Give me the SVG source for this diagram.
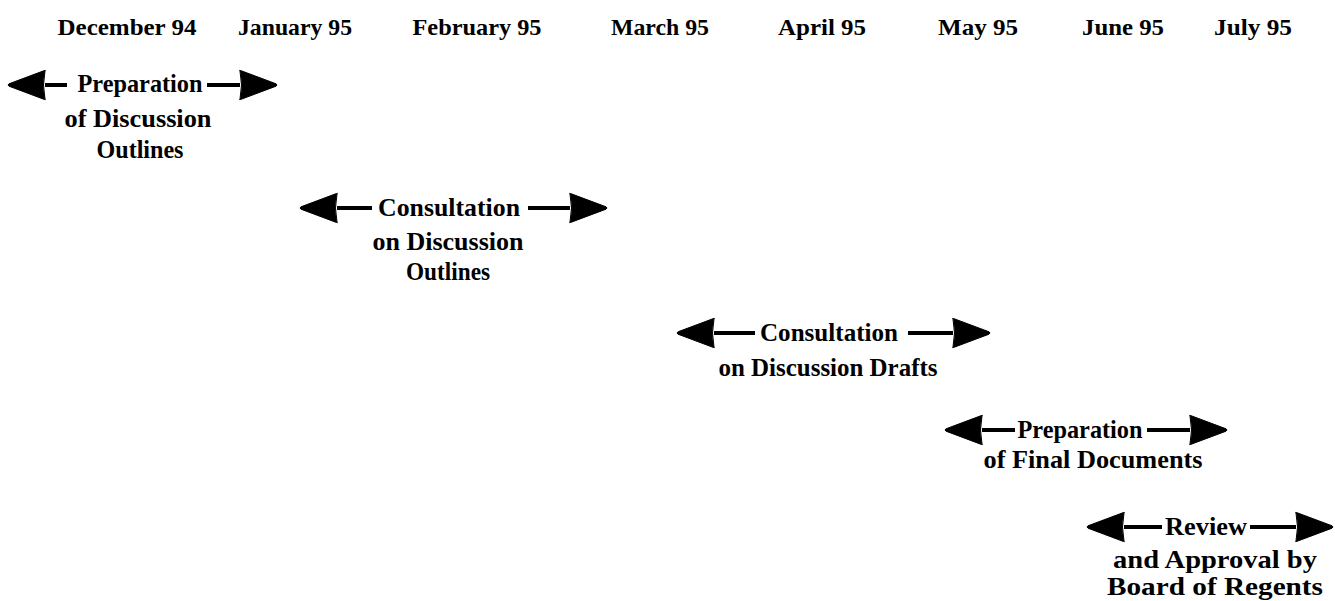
<svg xmlns="http://www.w3.org/2000/svg" width="1335" height="601" viewBox="0 0 1335 601">
<style>
text{font-family:"Liberation Serif","Times New Roman",serif;font-weight:bold;font-size:25px;fill:#000;text-anchor:middle}
.hdr{font-size:24px}
.shaft{stroke:#000;stroke-width:4;fill:none;marker-end:url(#head)}
</style>
<defs>
<marker id="head" markerUnits="userSpaceOnUse" viewBox="0 -16 40 32" refX="1" refY="0" markerWidth="40" markerHeight="32" orient="auto">
<path d="M1,-14 Q0,-15 1.5,-14.5 L37,-1.2 Q39,0 37,1.2 L1.5,14.5 Q0,15 1,14 Q4,0 1,-14 Z" fill="#000" stroke="#000" stroke-width="1" stroke-linejoin="round"/>
</marker>
</defs>
<rect width="1335" height="601" fill="#fff"/>
<g id="months">
<text class="hdr" x="127" y="35" textLength="139" lengthAdjust="spacingAndGlyphs">December 94</text>
<text class="hdr" x="295" y="35" textLength="114" lengthAdjust="spacingAndGlyphs">January 95</text>
<text class="hdr" x="477" y="35" textLength="129" lengthAdjust="spacingAndGlyphs">February 95</text>
<text class="hdr" x="660" y="35" textLength="98" lengthAdjust="spacingAndGlyphs">March 95</text>
<text class="hdr" x="822" y="35" textLength="88" lengthAdjust="spacingAndGlyphs">April 95</text>
<text class="hdr" x="978" y="35" textLength="80" lengthAdjust="spacingAndGlyphs">May 95</text>
<text class="hdr" x="1123" y="35" textLength="82" lengthAdjust="spacingAndGlyphs">June 95</text>
<text class="hdr" x="1253" y="35" textLength="78" lengthAdjust="spacingAndGlyphs">July 95</text>
</g>
<g id="connectors">
<line class="shaft" x1="67" y1="85" x2="45" y2="85"/>
<line class="shaft" x1="207" y1="85" x2="240" y2="85"/>
<line class="shaft" x1="372" y1="208" x2="337" y2="208"/>
<line class="shaft" x1="528" y1="208" x2="570" y2="208"/>
<line class="shaft" x1="755" y1="333" x2="714" y2="333"/>
<line class="shaft" x1="908" y1="333" x2="953" y2="333"/>
<line class="shaft" x1="1015" y1="430" x2="982" y2="430"/>
<line class="shaft" x1="1147" y1="430" x2="1190" y2="430"/>
<line class="shaft" x1="1162" y1="527" x2="1124" y2="527"/>
<line class="shaft" x1="1250" y1="527" x2="1296" y2="527"/>
</g>
<g id="prep-outlines">
<text x="140" y="92" textLength="125" lengthAdjust="spacingAndGlyphs">Preparation</text>
<text x="138" y="127" textLength="147" lengthAdjust="spacingAndGlyphs">of Discussion</text>
<text x="140" y="158" textLength="87" lengthAdjust="spacingAndGlyphs">Outlines</text>
</g>
<g id="consult-outlines">
<text x="449" y="216" textLength="142" lengthAdjust="spacingAndGlyphs">Consultation</text>
<text x="448" y="250" textLength="151" lengthAdjust="spacingAndGlyphs">on Discussion</text>
<text x="448" y="280" textLength="84" lengthAdjust="spacingAndGlyphs">Outlines</text>
</g>
<g id="consult-drafts">
<text x="829" y="341" textLength="138" lengthAdjust="spacingAndGlyphs">Consultation</text>
<text x="828" y="376" textLength="219" lengthAdjust="spacingAndGlyphs">on Discussion Drafts</text>
</g>
<g id="prep-final">
<text x="1080" y="438" textLength="125" lengthAdjust="spacingAndGlyphs">Preparation</text>
<text x="1093" y="468" textLength="219" lengthAdjust="spacingAndGlyphs">of Final Documents</text>
</g>
<g id="review">
<text x="1206" y="535" textLength="82" lengthAdjust="spacingAndGlyphs">Review</text>
<text x="1215" y="568" textLength="204" lengthAdjust="spacingAndGlyphs">and Approval by</text>
<text x="1215" y="595" textLength="216" lengthAdjust="spacingAndGlyphs">Board of Regents</text>
</g>
</svg>
